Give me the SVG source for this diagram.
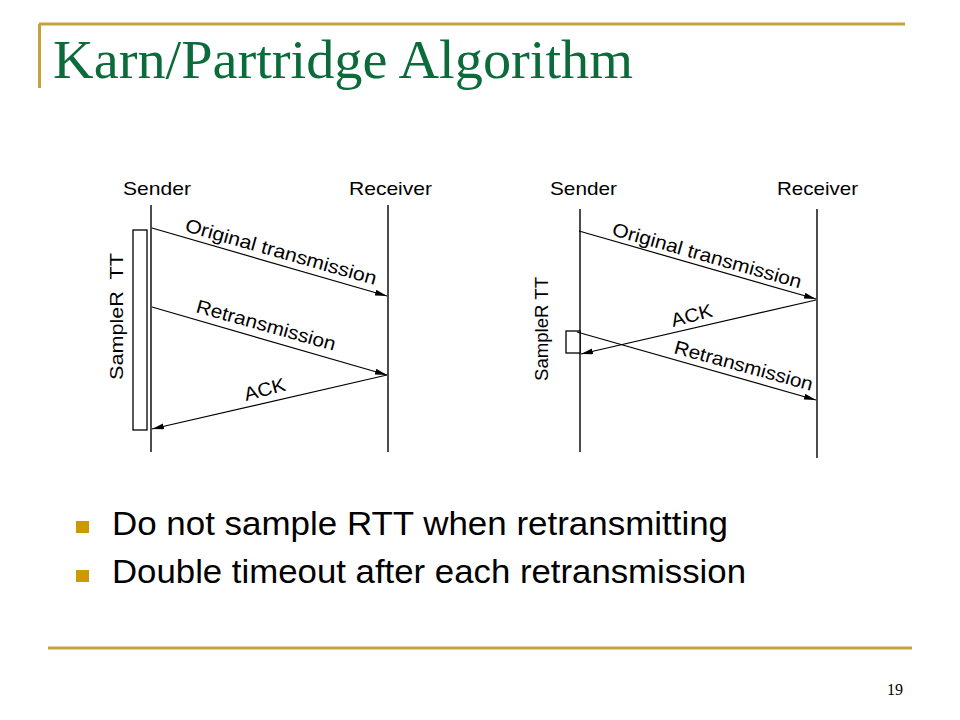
<svg xmlns="http://www.w3.org/2000/svg" width="960" height="720" viewBox="0 0 960 720">
<defs>
<style>
.gold{stroke:#C4A43A;stroke-width:3;fill:none}
.life{stroke:#000;stroke-width:1.4;fill:none}
.msg{stroke:#000;stroke-width:1.2;fill:none;marker-end:url(#ah)}
.box{stroke:#000;stroke-width:1.3;fill:#fff}
.lbl{font-family:"Liberation Sans",Arial,sans-serif;font-size:19px;fill:#000}
.bul{font-family:"Liberation Sans",Arial,sans-serif;font-size:34px;fill:#000}
.title{font-family:"Liberation Serif","Times New Roman",serif;font-size:54px;fill:#0B6B3A}
</style>
<marker id="ah" viewBox="0 0 12 6" refX="12" refY="3" markerWidth="12" markerHeight="6" markerUnits="userSpaceOnUse" orient="auto">
<path d="M0,0 L12,3 L0,6 Z" fill="#000"/>
</marker>
</defs>
<rect width="960" height="720" fill="#fff"/>
<g id="frame">
<path class="gold" d="M39,24 H905 M39.5,24 V88"/>
<line class="gold" x1="48" y1="648" x2="912" y2="648"/>
</g>
<text id="title" class="title" x="53" y="78" textLength="580" lengthAdjust="spacingAndGlyphs">Karn/Partridge Algorithm</text>
<g id="left-sender"><line class="life" x1="151" y1="205" x2="151" y2="452"/><text class="lbl" x="123" y="195" textLength="68" lengthAdjust="spacingAndGlyphs">Sender</text></g>
<g id="left-receiver"><line class="life" x1="388" y1="205" x2="388" y2="452"/><text class="lbl" x="349" y="195" textLength="83" lengthAdjust="spacingAndGlyphs">Receiver</text></g>
<g id="left-sample"><rect class="box" x="133" y="230" width="14" height="200"/><text class="lbl" transform="translate(123,380) rotate(-90)" xml:space="preserve" textLength="127" lengthAdjust="spacingAndGlyphs">SampleR  TT</text></g>
<g id="right-sender"><line class="life" x1="580" y1="209" x2="580" y2="452"/><text class="lbl" x="550" y="195" textLength="67" lengthAdjust="spacingAndGlyphs">Sender</text></g>
<g id="right-receiver"><line class="life" x1="817" y1="209" x2="817" y2="458"/><text class="lbl" x="777" y="195" textLength="81" lengthAdjust="spacingAndGlyphs">Receiver</text></g>
<g id="right-sample"><rect class="box" x="566" y="331" width="14" height="22"/><text class="lbl" transform="translate(548,381) rotate(-90)" textLength="104" lengthAdjust="spacingAndGlyphs">SampleR TT</text></g>
<g id="connectors">
<line class="msg" x1="152" y1="228" x2="387" y2="296"/>
<line class="msg" x1="152" y1="307" x2="387" y2="375"/>
<line class="msg" x1="387" y1="375" x2="152" y2="429"/>
<line class="msg" x1="579" y1="231" x2="816" y2="299"/>
<line class="msg" x1="816" y1="300" x2="581" y2="354"/>
<line class="msg" x1="577" y1="332" x2="816" y2="400"/>
</g>
<g id="labels">
<text class="lbl" transform="translate(184,231) rotate(15.8)" textLength="198" lengthAdjust="spacingAndGlyphs">Original transmission</text>
<text class="lbl" transform="translate(195,312) rotate(15.6)" textLength="144" lengthAdjust="spacingAndGlyphs">Retransmission</text>
<text class="lbl" transform="translate(246,401) rotate(-15)" textLength="42" lengthAdjust="spacingAndGlyphs">ACK</text>
<text class="lbl" transform="translate(611,235) rotate(15.8)" textLength="196" lengthAdjust="spacingAndGlyphs">Original transmission</text>
<text class="lbl" transform="translate(673,327) rotate(-15)" textLength="42" lengthAdjust="spacingAndGlyphs">ACK</text>
<text class="lbl" transform="translate(673,353) rotate(15.3)" textLength="143" lengthAdjust="spacingAndGlyphs">Retransmission</text>
</g>
<g id="bullets">
<rect x="76" y="521" width="13" height="12" fill="#CC9900"/>
<text class="bul" x="112" y="535" textLength="616" lengthAdjust="spacingAndGlyphs">Do not sample RTT when retransmitting</text>
<rect x="76" y="570" width="13" height="12" fill="#CC9900"/>
<text class="bul" x="112" y="583" textLength="634" lengthAdjust="spacingAndGlyphs">Double timeout after each retransmission</text>
</g>
<text id="page" x="887" y="695" font-family="Liberation Serif,serif" font-size="16" fill="#000">19</text>
</svg>
